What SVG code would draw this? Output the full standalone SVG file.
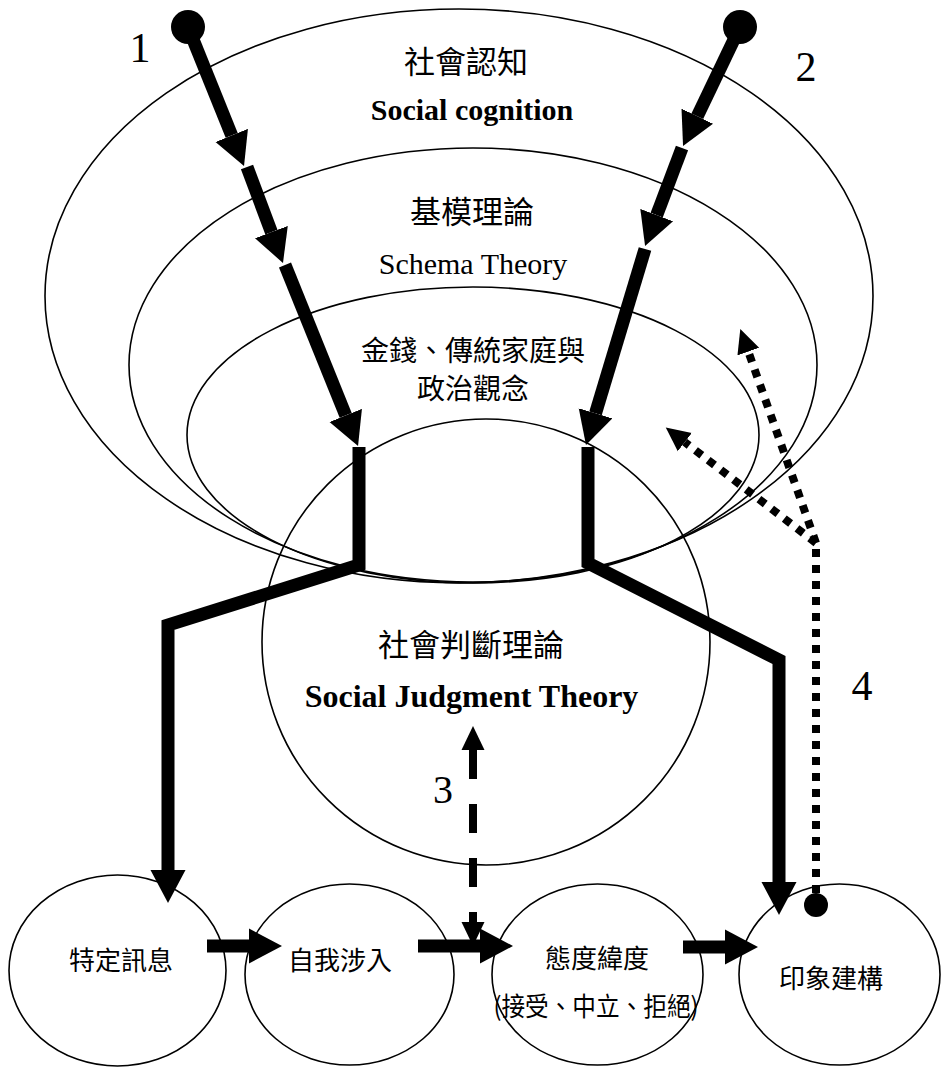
<svg xmlns="http://www.w3.org/2000/svg" width="942" height="1067" viewBox="0 0 942 1067">
<defs>
<style>
.ring{fill:none;stroke:#000;stroke-width:1.6}
.cjk{font-family:"Noto Sans CJK TC","Noto Sans CJK SC",sans-serif;fill:#000;text-anchor:middle}
.ser{font-family:"Liberation Serif","Times New Roman",serif;fill:#000;text-anchor:middle}
.thick{fill:none;stroke:#000;stroke-width:13;stroke-linejoin:miter}
.dot{fill:none;stroke:#000;stroke-width:8;stroke-dasharray:8 8}
.dash{fill:none;stroke:#000;stroke-width:8;stroke-dasharray:29 25}
</style>
<marker id="big" markerUnits="userSpaceOnUse" viewBox="0 -18 34 36" refX="0" refY="0" markerWidth="34" markerHeight="36" orient="auto">
<path d="M0,-17.5 L33,0 L0,17.5 Z" fill="#000"/>
</marker>
<marker id="small" markerUnits="userSpaceOnUse" viewBox="0 -12 25 24" refX="0" refY="0" markerWidth="25" markerHeight="24" orient="auto-start-reverse">
<path d="M0,-11.5 L24,0 L0,11.5 Z" fill="#000"/>
</marker>
</defs>
<rect width="942" height="1067" fill="#fff"/>

<g id="social-cognition">
<ellipse class="ring" cx="459" cy="296" rx="414" ry="287"/>
<text class="cjk" x="466" y="73" font-size="31">社會認知</text>
<text class="ser" x="472" y="120" font-size="30" font-weight="bold">Social cognition</text>
</g>
<g id="schema-theory">
<ellipse class="ring" cx="473" cy="365" rx="344" ry="217"/>
<text class="cjk" x="472" y="223" font-size="31">基模理論</text>
<text class="ser" x="473" y="274" font-size="30">Schema Theory</text>
</g>
<g id="concepts">
<ellipse class="ring" cx="473" cy="435" rx="286" ry="148"/>
<text class="cjk" x="473" y="361" font-size="28">金錢、傳統家庭與</text>
<text class="cjk" x="473" y="399" font-size="28">政治觀念</text>
</g>
<g id="social-judgment">
<ellipse class="ring" cx="486" cy="642" rx="224" ry="223"/>
<text class="cjk" x="471" y="656" font-size="31">社會判斷理論</text>
<text class="ser" x="471.5" y="707" font-size="32" font-weight="bold">Social Judgment Theory</text>
</g>
<g id="specific-message">
<ellipse class="ring" cx="117.5" cy="970.5" rx="108.5" ry="95.5"/>
<text class="cjk" x="121" y="970" font-size="26">特定訊息</text>
</g>
<g id="ego-involvement">
<ellipse class="ring" cx="349.5" cy="974.5" rx="104.5" ry="90.5"/>
<text class="cjk" x="340" y="970" font-size="26">自我涉入</text>
</g>
<g id="attitude-latitude">
<ellipse class="ring" cx="597.5" cy="974.5" rx="105.5" ry="90.5"/>
<text class="cjk" x="597" y="968" font-size="26">態度緯度</text>
<text class="cjk" x="596" y="1016" font-size="26" textLength="205" lengthAdjust="spacingAndGlyphs">(接受、中立、拒絕)</text>
</g>
<g id="impression-building">
<ellipse class="ring" cx="839.5" cy="974.5" rx="100.5" ry="90.5"/>
<text class="cjk" x="831" y="988" font-size="26">印象建構</text>
</g>

<g id="connectors">
<!-- path 1 -->
<circle cx="188" cy="27" r="17" fill="#000"/>
<line class="thick" x1="188" y1="27" x2="231.7" y2="135.4" marker-end="url(#big)"/>
<line class="thick" x1="247" y1="167" x2="271.4" y2="232.1" marker-end="url(#big)"/>
<line class="thick" x1="285" y1="265" x2="345.7" y2="415.4" marker-end="url(#big)"/>
<polyline class="thick" points="359,447 359,565 168,625 168,870" marker-end="url(#big)"/>
<!-- path 2 -->
<circle cx="740" cy="27" r="17" fill="#000"/>
<line class="thick" x1="740" y1="27" x2="697.3" y2="116.2" marker-end="url(#big)"/>
<line class="thick" x1="682" y1="148" x2="656.7" y2="215.1" marker-end="url(#big)"/>
<line class="thick" x1="645" y1="249" x2="595.5" y2="413.4" marker-end="url(#big)"/>
<polyline class="thick" points="588,447 588,563 779,660 779,882" marker-end="url(#big)"/>
<!-- path 3 -->
<line class="dash" x1="473" y1="750" x2="473" y2="922" marker-start="url(#small)" marker-end="url(#small)"/>
<!-- path 4 -->
<circle cx="816" cy="905" r="12" fill="#000"/>
<line class="dot" x1="816" y1="893" x2="816" y2="543"/>
<line class="dot" x1="816" y1="543" x2="684.8" y2="442.2" marker-end="url(#small)"/>
<line class="dot" x1="816" y1="543" x2="748.3" y2="351.6" marker-end="url(#small)"/>
<!-- bottom chain -->
<line class="thick" x1="207" y1="946" x2="249" y2="946" marker-end="url(#big)"/>
<line class="thick" x1="418" y1="946" x2="480" y2="946" marker-end="url(#big)"/>
<line class="thick" x1="683" y1="947" x2="725" y2="947" marker-end="url(#big)"/>
</g>

<g id="labels">
<text class="ser" x="140" y="62" font-size="42">1</text>
<text class="ser" x="806" y="81" font-size="42">2</text>
<text class="ser" x="443" y="803" font-size="40">3</text>
<text class="ser" x="862" y="700" font-size="42">4</text>
</g>
</svg>
